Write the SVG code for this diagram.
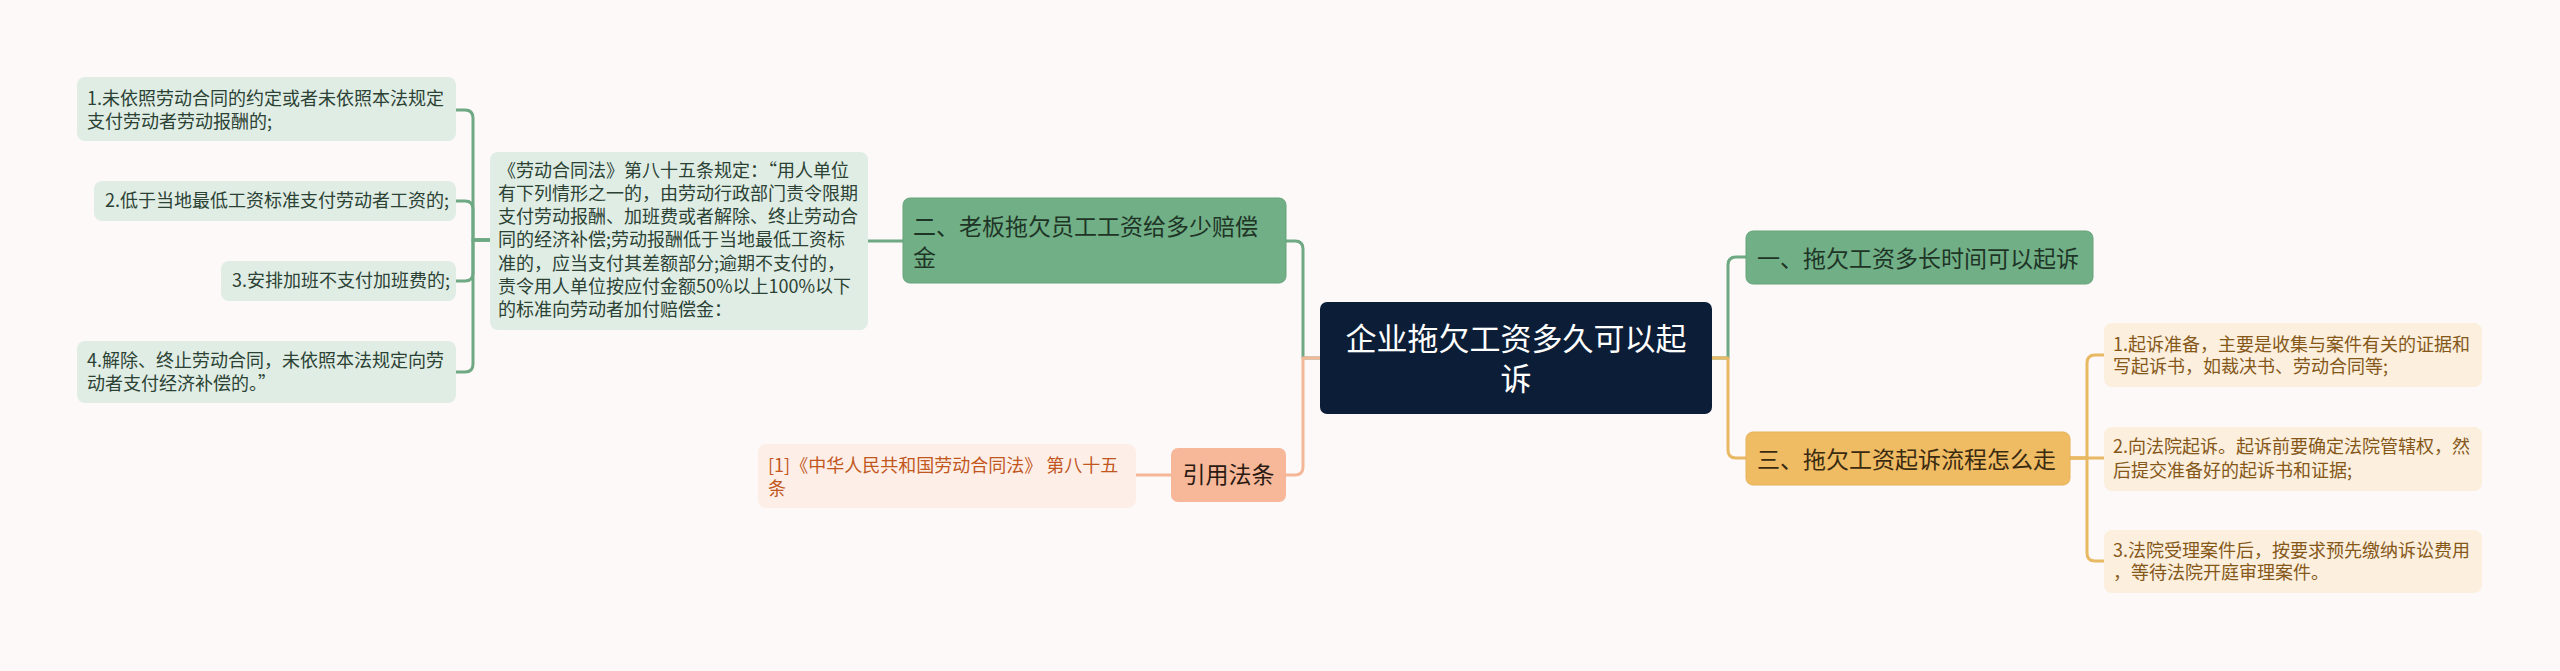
<svg xmlns="http://www.w3.org/2000/svg" width="2560" height="671" viewBox="0 0 2560 671">
<style>
text{font-family:"Noto Sans CJK SC","Noto Sans",sans-serif;}
.con{fill:none;stroke-width:3;stroke-linecap:round;stroke-linejoin:round;}
.g{stroke:#6fa983;}
.o{stroke:#f4b898;}
.y{stroke:#e9b862;}
.gnode{fill:#71af86;stroke:#66a37b;stroke-width:1;}
.ynode{fill:#efbb63;stroke:#e6b15a;stroke-width:1;}
.gleaf{fill:#e0ede5;}
.yleaf{fill:#fcefdd;}
.mt{font-size:23px;fill:#1e3526;}
.yt{font-size:23px;fill:#3a2a10;}
.lt{font-size:18px;fill:#2b4234;}
.ylt{font-size:18px;fill:#85581a;}
</style>
<rect x="0" y="0" width="2560" height="671" fill="#fdf9f8"/>
<g id="connectors">
<path class="con g" d="M1320,358 H1303 V249 Q1303,241 1295,241 H1286"/>
<path class="con o" d="M1320,358 H1303 V467 Q1303,475 1295,475 H1286"/>
<path class="con g" d="M1712,358 H1728 V265 Q1728,257 1736,257 H1746"/>
<path class="con y" d="M1712,358 H1728 V450 Q1728,458 1736,458 H1746"/>
<path class="con g" d="M903,241 H868"/>
<path class="con o" d="M1171,475 H1136"/>
<path class="con g" d="M490,240 H473 V118 Q473,110 465,110 H456"/>
<path class="con g" d="M490,240 H473 V209 Q473,201 465,201 H456"/>
<path class="con g" d="M490,240 H473 V273 Q473,281 465,281 H456"/>
<path class="con g" d="M490,240 H473 V364 Q473,372 465,372 H456"/>
<path class="con y" d="M2070,458 H2087 V363 Q2087,355 2095,355 H2104"/>
<path class="con y" d="M2070,458 H2104"/>
<path class="con y" d="M2070,458 H2087 V553 Q2087,561 2095,561 H2104"/>
</g>
<g id="root">
<rect x="1320" y="302" width="392" height="112" rx="7" fill="#0c1e37"/>
<text x="1516" y="350" font-size="31" fill="#ffffff" text-anchor="middle">企业拖欠工资多久可以起<tspan x="1516" y="390">诉</tspan></text>
</g>
<g id="n2">
<rect class="gnode" x="903" y="198" width="383" height="85" rx="7"/>
<text class="mt" x="913" y="235">二、老板拖欠员工工资给多少赔偿<tspan x="913" y="266">金</tspan></text>
</g>
<g id="n2-detail">
<rect class="gleaf" x="490" y="152" width="378" height="178" rx="8"/>
<text class="lt" x="498" y="177">《劳动合同法》第八十五条规定：“用人单位<tspan x="498" y="200">有下列情形之一的，由劳动行政部门责令限期</tspan><tspan x="498" y="223">支付劳动报酬、加班费或者解除、终止劳动合</tspan><tspan x="498" y="246">同的经济补偿;劳动报酬低于当地最低工资标</tspan><tspan x="498" y="270">准的，应当支付其差额部分;逾期不支付的，</tspan><tspan x="498" y="293">责令用人单位按应付金额50%以上100%以下</tspan><tspan x="498" y="316">的标准向劳动者加付赔偿金：</tspan></text>
</g>
<g id="leaf-g1">
<rect class="gleaf" x="77" y="77" width="379" height="64" rx="8"/>
<text class="lt" x="87" y="105">1.未依照劳动合同的约定或者未依照本法规定<tspan x="87" y="128">支付劳动者劳动报酬的;</tspan></text>
</g>
<g id="leaf-g2">
<rect class="gleaf" x="94" y="181" width="362" height="40" rx="8"/>
<text class="lt" x="105" y="207">2.低于当地最低工资标准支付劳动者工资的;</text>
</g>
<g id="leaf-g3">
<rect class="gleaf" x="221" y="261" width="235" height="40" rx="8"/>
<text class="lt" x="232" y="287">3.安排加班不支付加班费的;</text>
</g>
<g id="leaf-g4">
<rect class="gleaf" x="77" y="341" width="379" height="62" rx="8"/>
<text class="lt" x="87" y="367">4.解除、终止劳动合同，未依照本法规定向劳<tspan x="87" y="390">动者支付经济补偿的。”</tspan></text>
</g>
<g id="cite">
<rect x="1171" y="448" width="115" height="54" rx="7" fill="#f7b899"/>
<text x="1228.5" y="483" font-size="23" fill="#2a1a12" text-anchor="middle">引用法条</text>
</g>
<g id="cite-detail">
<rect x="758" y="444" width="378" height="64" rx="8" fill="#fdefe8"/>
<text x="768" y="472" font-size="18" fill="#c2571e">[1]《中华人民共和国劳动合同法》 第八十五<tspan x="768" y="495">条</tspan></text>
</g>
<g id="n1">
<rect class="gnode" x="1746" y="231" width="347" height="53" rx="7"/>
<text class="mt" x="1757" y="267">一、拖欠工资多长时间可以起诉</text>
</g>
<g id="n3">
<rect class="ynode" x="1746" y="432" width="324" height="53" rx="7"/>
<text class="yt" x="1757" y="468">三、拖欠工资起诉流程怎么走</text>
</g>
<g id="leaf-y1">
<rect class="yleaf" x="2104" y="323" width="378" height="64" rx="8"/>
<text class="ylt" x="2113" y="351">1.起诉准备，主要是收集与案件有关的证据和<tspan x="2113" y="373">写起诉书，如裁决书、劳动合同等;</tspan></text>
</g>
<g id="leaf-y2">
<rect class="yleaf" x="2104" y="427" width="378" height="64" rx="8"/>
<text class="ylt" x="2113" y="453">2.向法院起诉。起诉前要确定法院管辖权，然<tspan x="2113" y="477">后提交准备好的起诉书和证据;</tspan></text>
</g>
<g id="leaf-y3">
<rect class="yleaf" x="2104" y="530" width="378" height="63" rx="8"/>
<text class="ylt" x="2113" y="557">3.法院受理案件后，按要求预先缴纳诉讼费用<tspan x="2113" y="579">，等待法院开庭审理案件。</tspan></text>
</g>
</svg>
